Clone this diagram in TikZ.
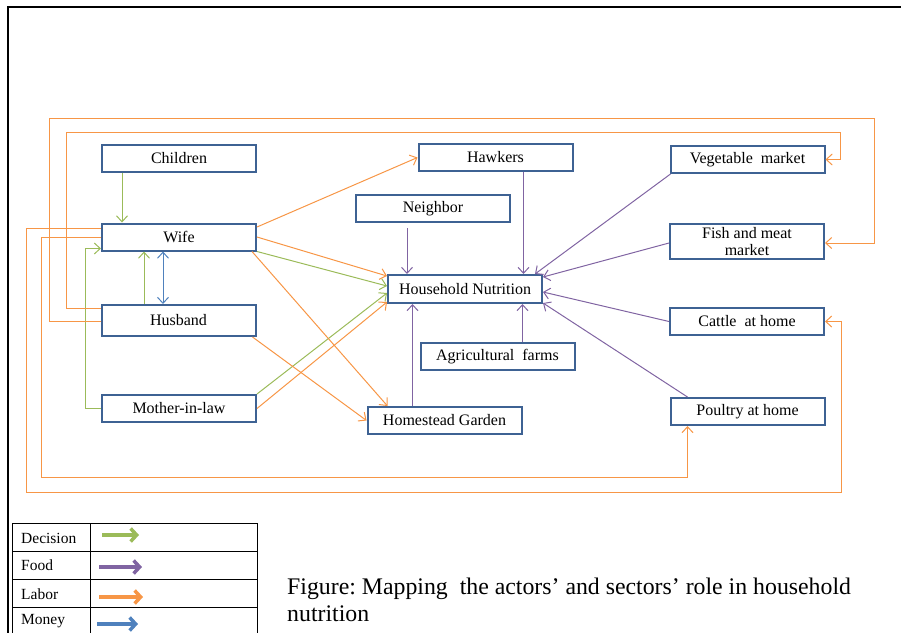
\documentclass[tikz,border=0pt]{standalone}
\usepackage{fontspec}
\setmainfont{Liberation Serif}
\usetikzlibrary{arrows.meta,calc}
\definecolor{boxblue}{HTML}{3E6293}
\definecolor{decgreen}{HTML}{9BBB59}
\definecolor{foodpurple}{HTML}{8064A2}
\definecolor{laborange}{HTML}{F79646}
\definecolor{moneyblue}{HTML}{4F81BD}
\tikzset{
  box/.style={draw=boxblue, line width=2pt, fill=white, minimum width=154pt, minimum height=27pt,
    inner sep=1pt, align=center, font=\fontsize{16}{17}\selectfont},
  conn/.style={line width=1pt, -{Straight Barb[length=6pt,width=11pt]}},
  dec/.style={conn, draw=decgreen},
  food/.style={conn, draw=foodpurple},
  lab/.style={conn, draw=laborange},
  mon/.style={conn, draw=moneyblue},
  legarrow/.style={line width=3.5pt, -{Straight Barb[length=6pt,width=13pt]}},
  legtext/.style={anchor=west, inner sep=0pt, font=\fontsize{15.5}{16}\selectfont}
}
\begin{document}
\begin{tikzpicture}[x=1pt,y=-1pt]
\useasboundingbox (0,0) rectangle (901,632);
% frame
\draw[line width=2pt] (8,640) -- (8,7) -- (905,7);

% nodes
\node[box] (children) at (179,158.5) {Children};
\node[box] (wife) at (179,237) {Wife};
\node[box, minimum height=31pt] (husband) at (178.5,320.5) {Husband};
\node[box] (mil) at (179,408.5) {Mother-in-law};
\node[box] (hawkers) at (495.5,157.5) {Hawkers};
\node[box] (neighbor) at (433,208.5) {Neighbor};
\node[box, minimum height=28pt] (hn) at (465,289) {Household Nutrition};
\node[box] (agri) at (497.5,356.5) {Agricultural~~farms};
\node[box] (hg) at (444.5,420.5) {Homestead Garden};
\node[box] (veg) at (747.5,159.5) {Vegetable~~market};
\node[box, minimum height=35pt, font=\fontsize{16}{17}\selectfont] (fish) at (747,241.5) {Fish and meat\\market};
\node[box] (cattle) at (747,321.5) {Cattle~ at home};
\node[box] (poultry) at (747.5,411.5) {Poultry at home};

% helper coordinates
\coordinate (w1) at ([xshift=43]wife.south west);
\coordinate (w2) at ([xshift=62]wife.south west);
\coordinate (h1) at ([xshift=106]hawkers.south west);
\coordinate (n1) at ([xshift=52,yshift=-5]neighbor.south west);
\coordinate (a1) at ([xshift=103]agri.north west);
\coordinate (g1) at ([xshift=46]hg.north west);

% decision (green)
\draw[dec] ([xshift=21]children.south west) -- ([xshift=21]wife.north west);
\draw[dec] (w1 |- husband.north) -- (w1);
\draw[dec] (mil.west) -- ++(-16,0) |- ([yshift=3]wife.south west);
\draw[dec] (wife.south east) -- ([yshift=3]hn.west);
\draw[dec] (mil.north east) -- ([yshift=-4]hn.west);

% money (blue)
\draw[mon, {Straight Barb[length=6pt,width=11pt]}-{Straight Barb[length=6pt,width=11pt]}] (w2) -- (w2 |- husband.north);

% labor (orange)
\draw[lab] ([yshift=10]wife.east) -- (hawkers.west);
\draw[lab] (wife.east) -- ([yshift=13]hn.west);
\draw[lab] ([xshift=-5]wife.south east) -- ([xshift=21]hg.north west);
\draw[lab] ([xshift=-4]husband.south east) -- (hg.west);
\draw[lab] (mil.east) -- ([yshift=-13]hn.west);
\draw[lab] ([yshift=12]husband.west) -| (66,132) -| ([xshift=15]veg.east) -- (veg.east);
\draw[lab] ([yshift=-0.5]husband.west) -| (49,118) -| ([xshift=49,yshift=-1.5]fish.east) -- ([yshift=-1.5]fish.east);
\draw[lab] (wife.west) -| (41,477) -| ([xshift=18]poultry.south west);
\draw[lab] ([yshift=9]wife.west) -| (26,492) -| ([xshift=16]cattle.east) -- (cattle.east);

% food (purple)
\draw[food] (h1) -- (h1 |- hn.north);
\draw[food] (n1) -- (n1 |- hn.north);
\draw[food] ([xshift=1]veg.south west) -- ([xshift=-8]hn.north east);
\draw[food] ([yshift=-1.5]fish.west) -- ([yshift=12]hn.east);
\draw[food] (cattle.west) -- ([yshift=-3]hn.east);
\draw[food] ([xshift=18]poultry.north west) -- ([yshift=-14]hn.east);
\draw[food] (a1) -- (a1 |- hn.south);
\draw[food] (g1) -- (g1 |- hn.south);

% legend
\draw[line width=0.8pt] (12,523) rectangle (257,640);
\draw[line width=0.8pt] (12,551) -- (257,551) (12,579) -- (257,579) (12,607) -- (257,607) (90,523) -- (90,640);
\node[legtext] (ldec) at (21,538) {Decision};
\node[legtext] (lfood) at (21,565) {Food};
\node[legtext] (llab) at (21,594) {Labor};
\node[legtext] (lmon) at (21,621) {Money};
\draw[legarrow, draw=decgreen] (102,535) -- (139,535);
\draw[legarrow, draw=foodpurple] (99,567) -- (142,567);
\draw[legarrow, draw=laborange] (99,597) -- (143,597);
\draw[legarrow, draw=moneyblue] (97,624) -- (138,624);

% caption
\node[anchor=base west, inner sep=0pt, align=left, font=\fontsize{23.8}{27}\selectfont] (caption) at (287,621)
  {Figure:~Mapping~ the actors’ and sectors’ role in household\\nutrition};
\end{tikzpicture}
\end{document}
